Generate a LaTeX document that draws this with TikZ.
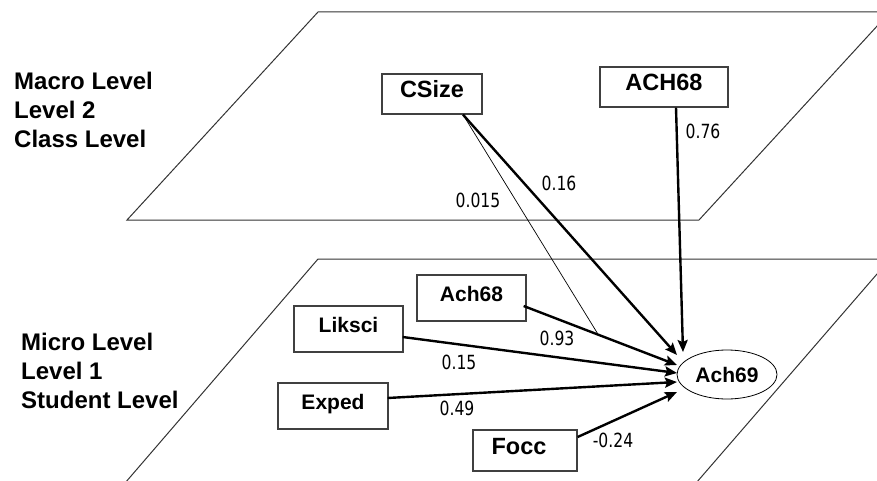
\documentclass[tikz,border=0pt]{standalone}
\usepackage{fontspec}
\setmainfont{Liberation Sans}
\newfontfamily\numfont[FakeStretch=0.8]{DejaVu Sans}
\usetikzlibrary{arrows.meta,shapes.geometric,calc}
\begin{document}
\begin{tikzpicture}[x=1pt,y=-1pt,
  box/.style={draw=black!75, line width=1.3pt, inner sep=0pt, text height=0.72em, text depth=0pt,
    font=\bfseries\fontsize{21}{21}\selectfont},
  bigbox/.style={box, font=\bfseries\fontsize{23.5}{23.5}\selectfont},
  lvl/.style={font=\bfseries\fontsize{24}{29}\selectfont, align=left, anchor=west, inner sep=0pt},
  coef/.style={font=\numfont\fontsize{19.5}{19.5}\selectfont, inner sep=0pt},
  arr/.style={line width=2.4pt, -{Stealth[length=12pt,width=10pt,inset=2pt]}},
  plane/.style={draw=black!80, line width=1pt}]
\useasboundingbox (0,0) rectangle (877,481);
\clip (0,0) rectangle (877,481);
% planes
\draw[plane] (127,220) -- (318,12) -- (890,12) -- (699,220) -- cycle;
\draw[plane] (119,490) -- (318,259) -- (890,259) -- (690,490);
% level labels
\node[lvl] (macro) at (14,110) {Macro Level\\Level 2\\Class Level};
\node[lvl] (micro) at (21,371) {Micro Level\\Level 1\\Student Level};
% nodes
\node[bigbox, minimum width=100pt, minimum height=40pt] (csize) at (432,94) {CSize};
\node[bigbox, minimum width=128pt, minimum height=40pt] (ACH) at (664,87) {ACH68};
\node[box, minimum width=109pt, minimum height=46pt] (ach68) at (471.5,298) {Ach68};
\node[box, minimum width=109pt, minimum height=46pt] (liksci) at (348.5,329) {Liksci};
\node[box, minimum width=110pt, minimum height=46pt] (exped) at (333,406) {Exped};
\node[bigbox, minimum width=104pt, minimum height=41pt] (focc) at (525,450.5) {\hspace*{-12pt}Focc};
\node[draw, ellipse, line width=0.8pt, minimum width=100pt, minimum height=49pt, inner sep=0pt,
  font=\bfseries\fontsize{21}{21}\selectfont] (ach69) at (727,374.5) {Ach69};
% arrows
\draw[arr] ([xshift=31pt]csize.south) -- ([xshift=-50pt,yshift=19.5pt]ach69.center);
\draw[arr] ([xshift=12pt]ACH.south) -- ([xshift=-44pt,yshift=22.5pt]ach69.center);
\draw[arr] ([xshift=-3pt,yshift=-8pt]ach68.east) -- coordinate[pos=0.487] (mod) ([xshift=-50pt,yshift=9.5pt]ach69.center);
\draw[arr] ([xshift=-1pt,yshift=-8pt]liksci.east) -- ([xshift=-50pt,yshift=1.5pt]ach69.center);
\draw[arr] ([xshift=-1pt,yshift=8pt]exped.east) -- ([xshift=-50pt,yshift=-7.5pt]ach69.center);
\draw[arr] ([yshift=13.5pt]focc.east) -- ([xshift=-50pt,yshift=-17.5pt]ach69.center);
\draw[line width=0.7pt] ([xshift=31pt]csize.south) -- (mod);
% coefficients
\node[coef] (c1) at (703,131) {0.76};
\node[coef] (c2) at (559,183) {0.16};
\node[coef] (c3) at (478,200) {0.015};
\node[coef] (c4) at (557,338) {0.93};
\node[coef] (c5) at (459,362) {0.15};
\node[coef] (c6) at (457,408) {0.49};
\node[coef] (c7) at (613,440) {-0.24};
\end{tikzpicture}
\end{document}
